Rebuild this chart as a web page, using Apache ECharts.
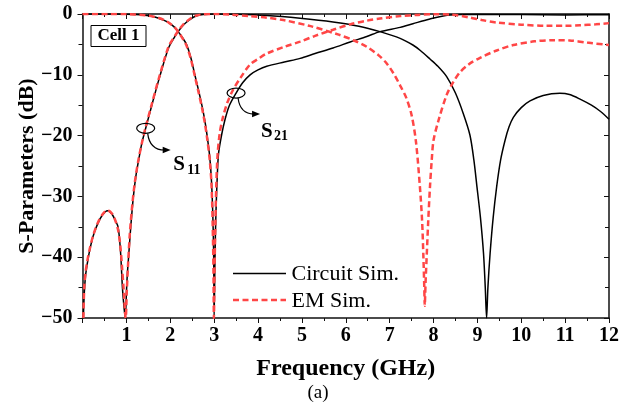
<!DOCTYPE html>
<html>
<head>
<meta charset="utf-8">
<script src="https://cdn.jsdelivr.net/npm/echarts@6/dist/echarts.min.js"></script>
<style>
  html, body { margin: 0; padding: 0; background: #fff; }
  #chart { width: 632px; height: 408px; }
</style>
</head>
<body>
<div id="chart"></div>
<script>
// Frequency axis ticks (GHz) and S-parameter axis ticks (dB)
const freqTicks = [0, 1, 2, 3, 4, 5, 6, 7, 8, 9, 10, 11, 12];
const dbTicks = [-50, -40, -30, -20, -10, 0];

// Legend entries and curve labels
const legendNames = ['Circuit Sim.', 'EM Sim.'];
const curveLabels = [{ sub: '11', at: [1.44, -18.8] }, { sub: '21', at: [3.5, -13] }];

// Circuit simulation, S11
const circuitS11Freq = [0.02, 0.04, 0.07, 0.11, 0.16, 0.24, 0.34, 0.45, 0.57, 0.67, 0.75, 0.81, 0.85, 0.875, 0.91, 0.95, 0.975,
  1.0, 1.02, 1.05, 1.1, 1.16, 1.22, 1.29, 1.36, 1.44, 1.58, 1.76, 1.96, 2.08, 2.18, 2.3, 2.47, 2.6, 2.75, 3.0, 3.5, 4.2, 4.96,
  5.71, 6.3, 6.78, 7.24, 7.53, 7.7, 7.92, 8.1, 8.3, 8.5, 8.68, 8.83, 8.92, 8.99, 9.07, 9.14, 9.18, 9.21, 9.24, 9.29, 9.36,
  9.44, 9.53, 9.63, 9.72, 9.82, 10.0, 10.2, 10.5, 10.88, 11.1, 11.34, 11.6, 11.8, 12.0];
const circuitS11Db = [-50, -46, -43, -41, -39, -36.6, -34.6, -33.1, -32.35, -32.9, -34, -35, -37.5, -40, -45, -48.5, -50,
  -46, -43, -40, -35, -30, -26.5, -23.6, -21, -18.8, -15, -10.3, -5.6, -4.0, -2.9, -1.8, -0.8, -0.3, -0.08, -0.02, -0.05, -0.25, -0.7,
  -1.3, -2.0, -2.9, -4.0, -5.1, -6.0, -7.4, -8.6, -10.3, -13, -16.4, -19.9, -24, -28.4, -33.5, -39.4, -45, -50, -45, -39.4, -33.5,
  -28.4, -24.0, -20.8, -18.6, -17.0, -15.4, -14.3, -13.4, -13.05, -13.25, -14.0, -15.0, -16.0, -17.3];

// Circuit simulation, S21
const circuitS21Freq = [0, 0.6, 1.0, 1.2, 1.42, 1.6, 1.72, 1.85, 1.98, 2.1, 2.18, 2.28, 2.37, 2.47, 2.56, 2.64, 2.72, 2.79, 2.84,
  2.9, 2.94, 2.97, 2.99, 3.0, 3.02, 3.04, 3.07, 3.1, 3.17, 3.25, 3.35, 3.5, 3.65, 3.82, 4.0, 4.2, 4.6, 4.96, 5.3, 5.71, 6.1,
  6.48, 6.78, 7.24, 7.53, 7.9, 8.38, 9.0, 10.0, 11.0, 12.0];
const circuitS21Db = [0, -0.01, -0.03, -0.08, -0.2, -0.4, -0.65, -1.0, -1.5, -2.2, -2.9, -3.9, -5.0, -7.2, -10, -12.4, -15, -17.6, -20,
  -23.5, -27.5, -33, -40, -50, -40, -33, -27, -23, -19.9, -17.3, -15, -13, -11.3, -10, -9.2, -8.6, -7.9, -7.3, -6.5, -5.6, -4.6,
  -3.7, -2.9, -2.2, -1.6, -0.85, -0.15, -0.05, -0.1, -0.15, -0.12];

// EM simulation, S11
const emS11Freq = [0.02, 0.04, 0.07, 0.11, 0.16, 0.24, 0.34, 0.45, 0.57, 0.67, 0.75, 0.81, 0.86, 0.9, 0.94, 0.985,
  1.01, 1.04, 1.08, 1.14, 1.2, 1.28, 1.36, 1.44, 1.58, 1.76, 1.96, 2.08, 2.18, 2.3, 2.47, 2.6, 2.75, 3.0, 3.4, 3.8, 4.2, 4.58,
  5.2, 5.84, 6.2, 6.48, 6.75, 6.93, 7.1, 7.25, 7.38, 7.5, 7.6, 7.69, 7.74, 7.77, 7.79, 7.8, 7.82, 7.85, 7.88, 7.92, 7.96,
  8.0, 8.11, 8.3, 8.45, 8.6, 8.8, 9.06, 9.44, 9.82, 10.3, 10.73, 11.1, 11.5, 12.0];
const emS11Db = [-50, -45, -42.5, -40.6, -38.8, -36.5, -34.5, -33, -32.3, -32.8, -34, -35.5, -38, -41.5, -45.5, -50,
  -45.5, -41, -36, -31, -27.3, -23.8, -21, -18.6, -14.8, -10.1, -5.4, -3.9, -2.8, -1.7, -0.7, -0.25, -0.05, 0, -0.1, -0.35, -0.6, -1.0,
  -2.0, -3.4, -4.4, -5.4, -6.8, -8.1, -9.9, -11.9, -13.8, -16.6, -21, -28.4, -34, -40, -45, -48, -44, -39, -34, -28.4, -24,
  -20.8, -17.6, -13.3, -11.2, -9.6, -8.3, -7.2, -6.0, -5.1, -4.5, -4.3, -4.35, -4.7, -5.1];

// EM simulation, S21
const emS21Freq = [0, 0.6, 1.0, 1.2, 1.42, 1.6, 1.72, 1.85, 1.98, 2.1, 2.18, 2.28, 2.37, 2.47, 2.56, 2.64, 2.72, 2.79, 2.84,
  2.9, 2.94, 2.965, 2.985, 2.995, 3.01, 3.03, 3.05, 3.08, 3.13, 3.2, 3.3, 3.43, 3.6, 3.82, 4.0, 4.2, 4.6, 4.96, 5.3, 5.71,
  6.1, 6.48, 6.78, 7.24, 7.65, 8.0, 8.4, 8.8, 9.1, 9.44, 10.0, 10.58, 11.0, 11.34, 11.7, 12.0];
const emS21Db = [0, 0, -0.02, -0.07, -0.2, -0.4, -0.6, -0.95, -1.5, -2.2, -2.9, -4.0, -5.2, -7.4, -10.2, -12.7, -15.3, -18, -20.4,
  -24, -28, -34, -42, -50, -42, -34, -28, -23, -19.5, -17, -14.6, -12.5, -10.5, -8.3, -7.4, -6.5, -5.4, -4.55, -3.6, -2.6,
  -1.7, -1.1, -0.75, -0.35, -0.15, -0.05, -0.1, -0.55, -1.0, -1.4, -1.75, -1.95, -1.95, -1.85, -1.7, -1.5];

const pair = (xs, ys) => xs.map((x, i) => [x, ys[i]]);

const SERIF = '"Liberation Serif", "Times New Roman", serif';
const AXIS_COLOR = '#111';
const RED = '#ff4646';
const RED_DASH = [6, 3.5];

const chart = echarts.init(document.getElementById('chart'), null, { renderer: 'canvas' });

const xBase = {
  type: 'value', min: freqTicks[0], max: freqTicks[freqTicks.length - 1], interval: 1,
  splitLine: { show: false },
  axisLine: { show: true, onZero: false, lineStyle: { color: AXIS_COLOR, width: 1.5 } },
  minorTick: { show: true, splitNumber: 2, length: 3, lineStyle: { color: AXIS_COLOR, width: 1 } },
  minorSplitLine: { show: false }
};
const yBase = {
  type: 'value', min: dbTicks[0], max: dbTicks[dbTicks.length - 1], interval: 10,
  splitLine: { show: false },
  axisLine: { show: true, onZero: false, lineStyle: { color: AXIS_COLOR, width: 1.5 } },
  minorTick: { show: true, splitNumber: 2, length: 4, lineStyle: { color: AXIS_COLOR, width: 1 } },
  minorSplitLine: { show: false }
};

const lineSeries = (name, data, color, width, dashed) => ({
  name, type: 'line', data, showSymbol: false, symbol: 'none',
  smooth: 0.3,
  xAxisIndex: 0, yAxisIndex: 0, clip: true,
  lineStyle: { color, width, type: dashed ? RED_DASH : 'solid' },
  itemStyle: { color },
  emphasis: { disabled: true }
});

chart.setOption({
  animation: false,
  backgroundColor: '#fff',
  grid: { left: 82.5, right: 23, top: 14, bottom: 90 },
  xAxis: [
    Object.assign({}, xBase, {
      position: 'bottom',
      name: 'Frequency (GHz)', nameLocation: 'middle', nameGap: 39, nameMoveOverlap: false,
      nameTextStyle: { fontFamily: SERIF, fontSize: 24, fontWeight: 'bold', color: '#000' },
      axisTick: { show: true, inside: false, length: 5, lineStyle: { color: AXIS_COLOR, width: 1 } },
      axisLabel: {
        margin: 8, fontFamily: SERIF, fontSize: 20, fontWeight: 'bold', color: '#000',
        formatter: v => (v === 0 ? '' : String(v))
      }
    }),
    Object.assign({}, xBase, {
      position: 'top',
      axisTick: { show: true, inside: true, length: 5, lineStyle: { color: AXIS_COLOR, width: 1 } },
      axisLabel: { show: false }
    })
  ],
  yAxis: [
    Object.assign({}, yBase, {
      position: 'left',
      name: 'S-Parameters (dB)', nameLocation: 'middle', nameGap: 44, nameRotate: 90, nameMoveOverlap: false,
      nameTextStyle: { fontFamily: SERIF, fontSize: 22, fontWeight: 'bold', color: '#000' },
      axisTick: { show: true, inside: false, length: 5, lineStyle: { color: AXIS_COLOR, width: 1 } },
      axisLabel: {
        margin: 10, fontFamily: SERIF, fontSize: 20, fontWeight: 'bold', color: '#000',
        formatter: v => String(v).replace('-', '\u2212')
      }
    }),
    Object.assign({}, yBase, {
      position: 'right',
      axisTick: { show: true, inside: true, length: 5, lineStyle: { color: AXIS_COLOR, width: 1 } },
      axisLabel: { show: false }
    })
  ],
  series: [
    lineSeries(legendNames[0], pair(circuitS11Freq, circuitS11Db), '#000', 1.5, false),
    lineSeries(legendNames[0], pair(circuitS21Freq, circuitS21Db), '#000', 1.5, false),
    lineSeries(legendNames[1], pair(emS11Freq, emS11Db), RED, 2.5, true),
    lineSeries(legendNames[1], pair(emS21Freq, emS21Db), RED, 2.5, true)
  ]
});

// Callout: an ellipse on the curve with a curved arrow pointing to its S-parameter label
function callout(label, o) {
  const [cx, cy] = chart.convertToPixel({ gridIndex: 0 }, label.at);
  const st = { stroke: '#000', lineWidth: 1.2, fill: null };
  return [
    { type: 'ellipse', shape: { cx, cy, rx: 9, ry: 5 }, style: Object.assign({}, st), z: 100 },
    { type: 'bezierCurve',
      shape: { x1: cx + 2, y1: cy + 5, cpx1: cx + 4, cpy1: cy + o.tipDy, x2: cx + o.tipDx - 6, y2: cy + o.tipDy },
      style: Object.assign({}, st), z: 100 },
    { type: 'polygon',
      shape: { points: [[cx + o.tipDx, cy + o.tipDy], [cx + o.tipDx - 8, cy + o.tipDy - 3.3], [cx + o.tipDx - 8, cy + o.tipDy + 3.3]] },
      style: { fill: '#000' }, z: 100 },
    { type: 'text', x: cx + o.sDx, y: cy + o.sDy, z: 100,
      style: { text: 'S', fontFamily: SERIF, fontSize: 21, fontWeight: 'bold', fill: '#000', verticalAlign: 'alphabetic' } },
    { type: 'text', x: cx + o.subDx, y: cy + o.subDy, z: 100,
      style: { text: label.sub, fontFamily: SERIF, fontSize: 14, fontWeight: 'bold', fill: '#000', verticalAlign: 'alphabetic' } }
  ];
}

// Legend drawn as sample lines with their captions
function legendRow(name, y, solid) {
  return [
    { type: 'line', shape: { x1: 233, y1: y, x2: 286, y2: y }, z: 100,
      style: solid ? { stroke: '#000', lineWidth: 1.5 } : { stroke: RED, lineWidth: 2.5, lineDash: RED_DASH } },
    { type: 'text', x: 291.5, y: y + 1, z: 100,
      style: { text: name, fontFamily: SERIF, fontSize: 22, fill: '#000', verticalAlign: 'middle' } }
  ];
}

const graphics = [
  { type: 'rect', shape: { x: 91, y: 25.5, width: 55, height: 21 }, style: { stroke: '#000', lineWidth: 1, fill: '#fff' }, z: 100 },
  { type: 'text', x: 118.5, y: 36, z: 101,
    style: { text: 'Cell 1', fontFamily: SERIF, fontSize: 17, fontWeight: 'bold', fill: '#000', align: 'center', verticalAlign: 'middle' } },
  { type: 'text', x: 318, y: 393, z: 100,
    style: { text: '(a)', fontFamily: SERIF, fontSize: 19, fill: '#000', align: 'center', verticalAlign: 'middle' } }
].concat(
  legendRow(legendNames[0], 273.5, true),
  legendRow(legendNames[1], 300, false),
  callout(curveLabels[0], { tipDx: 25, tipDy: 21.7, sDx: 27.5, sDy: 25.7, subDx: 41.5, subDy: 34.7 }),
  callout(curveLabels[1], { tipDx: 24, tipDy: 21, sDx: 25, sDy: 28.4, subDx: 38, subDy: 36.7 })
);

chart.setOption({ graphic: graphics });
</script>
</body>
</html>
